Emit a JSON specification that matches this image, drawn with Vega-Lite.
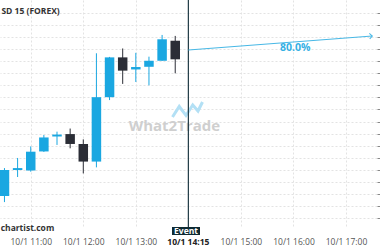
{
  "$schema": "https://vega.github.io/schema/vega-lite/v6.json",
  "width": 377,
  "height": 226,
  "autosize": "none",
  "padding": {"left": 0, "top": 0, "right": 3, "bottom": 24},
  "background": "white",
  "config": {"view": {"stroke": null}, "font": "Open Sans"},
  "datasets": {
    "candles": [
      {"t": "2015-10-01 10:30", "open": 0.69741, "high": 0.69857, "low": 0.69716, "close": 0.69849, "dir": "up"},
      {"t": "2015-10-01 10:45", "open": 0.69849, "high": 0.69899, "low": 0.69820, "close": 0.69857, "dir": "up"},
      {"t": "2015-10-01 11:00", "open": 0.69847, "high": 0.69947, "low": 0.69842, "close": 0.69925, "dir": "up"},
      {"t": "2015-10-01 11:15", "open": 0.69926, "high": 0.69994, "low": 0.69924, "close": 0.69984, "dir": "up"},
      {"t": "2015-10-01 11:30", "open": 0.69988, "high": 0.70008, "low": 0.69953, "close": 0.69996, "dir": "up"},
      {"t": "2015-10-01 11:45", "open": 0.69998, "high": 0.70021, "low": 0.69939, "close": 0.69957, "dir": "down"},
      {"t": "2015-10-01 12:00", "open": 0.69957, "high": 0.69976, "low": 0.69835, "close": 0.69884, "dir": "down"},
      {"t": "2015-10-01 12:15", "open": 0.69884, "high": 0.70333, "low": 0.69860, "close": 0.70151, "dir": "up"},
      {"t": "2015-10-01 12:30", "open": 0.70151, "high": 0.70318, "low": 0.70139, "close": 0.70316, "dir": "up"},
      {"t": "2015-10-01 12:45", "open": 0.70316, "high": 0.70353, "low": 0.70206, "close": 0.70261, "dir": "down"},
      {"t": "2015-10-01 13:00", "open": 0.70266, "high": 0.70335, "low": 0.70214, "close": 0.70276, "dir": "up"},
      {"t": "2015-10-01 13:15", "open": 0.70277, "high": 0.70319, "low": 0.70200, "close": 0.70302, "dir": "up"},
      {"t": "2015-10-01 13:30", "open": 0.70302, "high": 0.70409, "low": 0.70302, "close": 0.70391, "dir": "up"},
      {"t": "2015-10-01 13:45", "open": 0.70385, "high": 0.70405, "low": 0.70250, "close": 0.70308, "dir": "down"}
    ],
    "arrow": [
      {"t": "2015-10-01 14:00", "p": 0.703466},
      {"t": "2015-10-01 17:30", "p": 0.704046}
    ],
    "notes": [
      {"t": "2015-10-01 13:44", "p": 0.70031, "label": "What2Trade", "kind": "watermark"},
      {"t": "2015-10-01 16:02", "p": 0.703549, "label": "80.0%", "kind": "prob"},
      {"t": "2015-10-01 10:26:30", "p": 0.705095, "label": "SD 15 (FOREX)", "kind": "title"},
      {"t": "2015-10-01 10:25:40", "p": 0.696074, "label": "chartist.com", "kind": "site"},
      {"t": "2015-10-01 13:57:20", "p": 0.695962, "label": "Event", "kind": "event"},
      {"t": "2015-10-01 14:00", "p": 0.695506, "label": "10/1 14:15", "kind": "eventtime"}
    ],
    "event": [
      {"t": "2015-10-01 14:00", "top": 0.705539, "bottom": 0.696128, "x1": "2015-10-01 13:41:20", "x2": "2015-10-01 14:13:18", "b1": 0.696128, "b2": 0.695796, "lt": "2015-10-01 13:59", "lp": 0.70100}
    ]
  },
  "layer": [
    {
      "data": {"name": "candles"},
      "mark": {"type": "rule", "strokeWidth": 1},
      "encoding": {
        "x": {
          "field": "t", "type": "temporal", "title": null,
          "scale": {"domain": [
            {"year": 2015, "month": 10, "date": 1, "hours": 10, "minutes": 24, "seconds": 54},
            {"year": 2015, "month": 10, "date": 1, "hours": 17, "minutes": 35, "seconds": 24}
          ], "padding": 0},
          "axis": {
            "values": [
              {"year": 2015, "month": 10, "date": 1, "hours": 11},
              {"year": 2015, "month": 10, "date": 1, "hours": 12},
              {"year": 2015, "month": 10, "date": 1, "hours": 13},
              {"year": 2015, "month": 10, "date": 1, "hours": 15},
              {"year": 2015, "month": 10, "date": 1, "hours": 16},
              {"year": 2015, "month": 10, "date": 1, "hours": 17}
            ],
            "tickCount": 20,
            "format": "%-m/%-d %H:%M",
            "domain": false, "ticks": false, "labelOverlap": false,
            "labelPadding": 11, "labelFontSize": 8.5, "labelColor": "#555555", "labelFont": "Open Sans",
            "grid": true, "gridColor": "#e3e3e3", "gridDash": [2, 2], "gridWidth": 1
          }
        },
        "y": {
          "field": "low", "type": "quantitative", "title": null,
          "scale": {"domain": [0.696169, 0.705539], "zero": false, "nice": false, "padding": 0},
          "axis": {
            "orient": "right",
            "values": [0.6965, 0.697, 0.6975, 0.698, 0.6985, 0.699, 0.6995, 0.7, 0.7005, 0.701, 0.7015, 0.702, 0.7025, 0.703, 0.7035, 0.704, 0.7045, 0.705],
            "tickCount": 30,
            "labels": false, "domain": false, "tickSize": 3, "tickColor": "#888888", "labelOverlap": false,
            "grid": true, "gridColor": "#e3e3e3", "gridDash": [2, 2], "gridWidth": 1
          }
        },
        "y2": {"field": "high"},
        "color": {"field": "dir", "type": "nominal", "legend": null,
          "scale": {"domain": ["up", "down"], "range": ["#1aa7e1", "#2b2d36"]}}
      }
    },
    {
      "data": {"name": "candles"},
      "mark": {"type": "bar", "size": 9.5},
      "encoding": {
        "x": {"field": "t", "type": "temporal"},
        "y": {"field": "open", "type": "quantitative"},
        "y2": {"field": "close"},
        "color": {"field": "dir", "type": "nominal", "legend": null}
      }
    },
    {
      "data": {"name": "notes"},
      "transform": [{"filter": "datum.kind === 'watermark'"}],
      "mark": {"type": "text", "font": "Open Sans", "fontWeight": "bold", "fontSize": 15, "color": "#cfcfcf", "align": "center", "baseline": "middle"},
      "encoding": {
        "x": {"field": "t", "type": "temporal"},
        "y": {"field": "p", "type": "quantitative"},
        "text": {"field": "label"}
      }
    },
    {
      "data": {"name": "event"},
      "mark": {"type": "point", "shape": "M -1 0.5 L -0.55 -0.2 L -0.1 0.4 L 0.35 -0.3 L 0.7 0.1 L 1 -0.5", "filled": false, "stroke": "#b3e0f5", "strokeWidth": 3, "size": 900, "opacity": 1},
      "encoding": {
        "x": {"field": "lt", "type": "temporal"},
        "y": {"field": "lp", "type": "quantitative"}
      }
    },
    {
      "data": {"name": "event"},
      "mark": {"type": "rule", "color": "#1f3a44", "strokeWidth": 1.2},
      "encoding": {
        "x": {"field": "t", "type": "temporal"},
        "y": {"field": "top", "type": "quantitative"},
        "y2": {"field": "bottom"}
      }
    },
    {
      "data": {"name": "arrow"},
      "mark": {"type": "line", "color": "#47b8e6", "strokeWidth": 1},
      "encoding": {
        "x": {"field": "t", "type": "temporal"},
        "y": {"field": "p", "type": "quantitative"}
      }
    },
    {
      "data": {"name": "arrow"},
      "transform": [{"filter": "hours(datum.t) === 17"}],
      "mark": {"type": "point", "shape": "M -1 -1 L 0 0 L -1 1", "filled": false, "stroke": "#47b8e6", "strokeWidth": 1, "size": 30, "angle": -4, "opacity": 1},
      "encoding": {
        "x": {"field": "t", "type": "temporal"},
        "y": {"field": "p", "type": "quantitative"}
      }
    },
    {
      "data": {"name": "notes"},
      "transform": [{"filter": "datum.kind === 'prob'"}],
      "mark": {"type": "text", "font": "Open Sans", "fontWeight": "bold", "fontSize": 10.5, "color": "#35b0e4", "align": "center", "baseline": "middle"},
      "encoding": {
        "x": {"field": "t", "type": "temporal"},
        "y": {"field": "p", "type": "quantitative"},
        "text": {"field": "label"}
      }
    },
    {
      "data": {"name": "notes"},
      "transform": [{"filter": "datum.kind === 'title' || datum.kind === 'site'"}],
      "mark": {"type": "text", "font": "Open Sans", "fontWeight": "bold", "fontSize": 8.5, "color": "#333333", "align": "left", "baseline": "middle"},
      "encoding": {
        "x": {"field": "t", "type": "temporal"},
        "y": {"field": "p", "type": "quantitative"},
        "text": {"field": "label"}
      }
    },
    {
      "data": {"name": "event"},
      "mark": {"type": "rect", "color": "#0e2a33"},
      "encoding": {
        "x": {"field": "x1", "type": "temporal"},
        "x2": {"field": "x2"},
        "y": {"field": "b1", "type": "quantitative"},
        "y2": {"field": "b2"}
      }
    },
    {
      "data": {"name": "notes"},
      "transform": [{"filter": "datum.kind === 'event'"}],
      "mark": {"type": "text", "font": "Open Sans", "fontWeight": "bold", "fontSize": 8.5, "color": "white", "align": "center", "baseline": "middle"},
      "encoding": {
        "x": {"field": "t", "type": "temporal"},
        "y": {"field": "p", "type": "quantitative"},
        "text": {"field": "label"}
      }
    },
    {
      "data": {"name": "notes"},
      "transform": [{"filter": "datum.kind === 'eventtime'"}],
      "mark": {"type": "text", "font": "Open Sans", "fontWeight": "bold", "fontSize": 8.5, "color": "#222222", "align": "center", "baseline": "middle"},
      "encoding": {
        "x": {"field": "t", "type": "temporal"},
        "y": {"field": "p", "type": "quantitative"},
        "text": {"field": "label"}
      }
    }
  ]
}
